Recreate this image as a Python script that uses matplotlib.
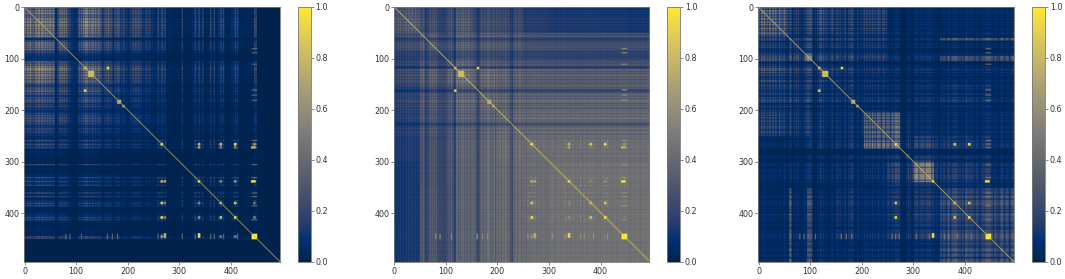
import numpy as np
import matplotlib
matplotlib.use('Agg')
import matplotlib.pyplot as plt

N = 495
BIN = 5      # stripes every 5 indices
COARSE = 50

TICKS = [0, 100, 200, 300, 400]
CBAR_TICKS = [0.0, 0.2, 0.4, 0.6, 0.8, 1.0]

### values, left panel

stripes_a = [
    .7, .8, .9, .6, .9, .95, .9, .9, .9, .9,
    .85, .9, .15, .7, .9, .85, .8, .35, .2, .15,
    .15, .6, .7, 1, .9, .85, .8, .8, .7, .7,
    .3, .7, .8, .6, .35, .6, .6, .4, .5, .3,
    .2, .5, .65, .65, .7, .5, .25, .5, .4, .3,
    .2, .25, .4, .45, .3, .12, .2, .1, .1, .1,
    .1, .12, .1, .08, .12, .2, .3, .4, .2, .1,
    .12, .2, .25, .22, .12, .3, .3, .12, .1, .12,
    .25, .3, .2, .1, .08, .08, .15, .08, .1, .4,
    .12, .08, .05, .05, .05, .06, .05, .03, .03,
]
levels_a = [
    [.76, .72, .76, .62, .56, .44, .44, .44, .44, .04],
    [.72, .66, .66, .56, .50, .40, .40, .40, .40, .04],
    [.76, .66, .68, .56, .50, .40, .40, .40, .40, .04],
    [.62, .56, .56, .46, .43, .34, .34, .34, .34, .04],
    [.56, .50, .50, .43, .40, .32, .32, .32, .32, .04],
    [.44, .40, .40, .34, .32, .36, .36, .36, .36, .04],
    [.44, .40, .40, .34, .32, .36, .40, .40, .40, .04],
    [.44, .40, .40, .34, .32, .36, .40, .40, .40, .04],
    [.44, .40, .40, .34, .32, .36, .40, .40, .40, .04],
    [.04, .04, .04, .04, .04, .04, .04, .04, .04, .04],
]

### middle panel

stripes_b = [
    .8, .9, .95, .85, 1, 1, 1, .95, 1, .95,
    .9, 1, .5, .85, 1, 1, .95, .6, .6, .55,
    .6, .8, .9, .45, 1, 1, 1, 1, .95, .95,
    .85, .85, .5, .85, .95, .95, 1, .95, 1, .9,
    .85, .95, 1, 1, .9, .6, .8, .95, .95, .95,
    .95, .95, 1, 1, 1, 1, 1, 1, 1, .97,
    1, 1, .97, 1, 1, 1, 1, 1, .97, 1,
    1, 1, .97, 1, 1, 1, 1, .97, 1, 1,
    1, 1, .97, 1, 1, 1, 1, 1, 1, 1,
    1, .97, 1, 1, 1, .97, 1, 1, 1,
]
levels_b = [
    [.42, .34, .40, .32, .30, .18, .16, .16, .15, .14],
    [.34, .46, .46, .44, .42, .32, .31, .30, .30, .30],
    [.30, .46, .55, .50, .46, .38, .37, .37, .37, .37],
    [.25, .42, .48, .52, .48, .42, .42, .42, .42, .42],
    [.22, .40, .46, .48, .52, .46, .46, .46, .46, .46],
    [.17, .34, .42, .45, .49, .44, .44, .44, .44, .44],
    [.15, .34, .41, .45, .47, .44, .46, .46, .46, .46],
    [.15, .36, .41, .45, .47, .44, .46, .46, .46, .46],
    [.15, .36, .41, .45, .47, .44, .46, .46, .46, .46],
    [.15, .36, .41, .45, .47, .44, .46, .46, .46, .46],
]

### right panel

stripes_c = [
    .6, 1, 1, .7, 1, .8, 1, .6, 1, .8,
    .9, .5, .9, .5, .9, 1, .5, .4, .7, 1,
    .9, .3, .5, .9, 1, 1, .6, .5, .9, .5,
    .7, .9, .5, .8, .5, 1, .9, .4, .7, .4,
    .5, 1, .9, .8, 1, .8, .9, .7, .9, .8,
    .8, .7, 1, 1, .9, .3, .2, .4, 1, .3,
    .9, 1, .9, .9, 1, 1, 1, .9, .5, .4,
    .7, .9, .6, 1, .8, .9, 1, .6, .8, .7,
    1, .7, .8, .6, .9, .5, .8, .7, 1, 1,
    .7, .9, .6, .8, 1, .7, .9, .6, 1,
]
levels_c = [
    [.52, .32, .40, .32, .32, .10, .10, .10, .10, .10],
    [.32, .26, .32, .32, .26, .13, .13, .13, .13, .13],
    [.40, .32, .32, .26, .20, .13, .13, .13, .13, .13],
    [.32, .32, .26, .26, .20, .16, .16, .20, .20, .13],
    [.32, .26, .20, .20, .26, .20, .13, .13, .13, .13],
    [.10, .13, .16, .20, .20, .26, .26, .20, .20, .13],
    [.10, .13, .13, .16, .13, .26, .26, .20, .20, .13],
    [.10, .13, .13, .20, .13, .20, .20, .30, .30, .30],
    [.10, .13, .13, .20, .13, .20, .20, .30, .30, .30],
    [.10, .13, .13, .13, .13, .13, .13, .30, .30, .36],
]
# row start, row stop, col start, col stop, level
blocks_c = [
    (0, 60, 0, 60, .62), (60, 105, 60, 105, .36), (90, 105, 90, 105, .62),
    (60, 65, 350, 495, .40), (95, 105, 350, 495, .34),
    (205, 275, 205, 275, .55), (297, 340, 297, 340, .60),
    (350, 495, 350, 495, .36), (285, 292, 285, 292, .70),
]

### thin lines in the pattern

dark_lines = [
    4, 9, 14, 20, 25, 31, 38, 43, 47, 53, 58, 66, 71, 75, 79, 83, 108, 112, 116,
    124, 128, 135, 140, 147, 156, 160, 165, 172, 177, 186, 190, 195, 207, 212,
    218, 223, 228, 238, 246, 255, 262, 275, 283, 292, 300, 310, 322, 335, 350,
    356, 364, 372, 392, 398, 420, 430, 455, 465, 475, 485,
]
# depth of the lines before and after index 250
dark_depth = {'a': (.55, .55), 'b': (.72, .92), 'c': (.4, .4)}

bright_lines = [258, 266, 272, 305, 330, 338, 345, 360, 367, 380, 385, 408, 412, 445, 448]
bright_gain = {'a': .75, 'b': 1.0, 'c': .7}

### bright spots: row, col, level (the matrices are symmetric)

squares = [(124, 136, .82), (180, 188, .72), (440, 451, 1.0)]
spots_shared = [
    (266, 266, 1.0), (408, 408, 1.0), (338, 338, .95), (380, 380, .8),
    (118, 118, .8), (192, 192, .7), (118, 162, .9), (266, 408, .95),
    (266, 380, .85), (380, 408, .85), (338, 445, .95), (338, 441, .95),
]
spots_ab = [
    (266, 338, .75), (266, 445, .6), (272, 338, .7), (272, 445, .75),
    (272, 441, .75), (338, 380, .55), (338, 408, .6), (380, 445, .45),
    (408, 445, .5), (272, 380, .5), (272, 408, .5),
]

# dim lattice around the bright spots, lower right
lattice_rows = [262, 272, 332, 345, 360, 375, 385, 405, 412]
lattice_cols = [258, 266, 272, 305, 330, 338, 360, 367, 380, 408, 412, 445]
lattice_level = {'a': .28, 'b': .6, 'c': .16}

row445_cols = [80, 88, 110, 160, 170, 180, 258, 265, 272, 305, 330, 360, 367, 385, 412]
row445_level = {'a': .42, 'b': .62, 'c': .45}

diag_level = {'a': .72, 'b': .85, 'c': .78}


def build(key, levels, stripes, spots, blocks=()):
    s = np.repeat(np.array(stripes, dtype=float), BIN)[:N]
    for i in dark_lines:
        s[i:i + 2] *= dark_depth[key][0 if i < 250 else 1]
    for i in bright_lines:
        s[i:i + 2] = np.maximum(s[i:i + 2], bright_gain[key])

    c = np.repeat(np.repeat(np.array(levels), COARSE, axis=0), COARSE, axis=1)[:N, :N]
    for r0, r1, c0, c1, level in blocks:
        c[r0:r1, c0:c1] = np.maximum(c[r0:r1, c0:c1], level)
        c[c0:c1, r0:r1] = np.maximum(c[c0:c1, r0:r1], level)
    m = c * np.outer(s, s)

    for r in lattice_rows:
        for col in lattice_cols:
            m[r:r + 2, col:col + 2] = np.maximum(m[r:r + 2, col:col + 2], lattice_level[key])
            m[col:col + 2, r:r + 2] = np.maximum(m[col:col + 2, r:r + 2], lattice_level[key])

    for col in row445_cols:
        m[440:451, col:col + 2] = row445_level[key]
        m[col:col + 2, 440:451] = row445_level[key]

    for a, b, level in squares:
        m[a:b, a:b] = level
    for r, col, level in spots:
        m[r - 2:r + 3, col - 2:col + 3] = level
        m[col - 2:col + 3, r - 2:r + 3] = level

    idx = np.arange(N - 1)
    m[idx, idx + 1] = diag_level[key]
    d = np.arange(N)
    keep = m[d, d] < diag_level[key]
    m[d[keep], d[keep]] = diag_level[key]
    return m


panels = [
    (build('a', levels_a, stripes_a, spots_shared + spots_ab), 24.3, 297.7),
    (build('b', levels_b, stripes_b, spots_shared + spots_ab), 394.0, 667.0),
    (build('c', levels_c, stripes_c, spots_shared, blocks_c), 758.3, 1032.0),
]

W, H = 1065, 279
fig = plt.figure(figsize=(W / 100, H / 100), dpi=100)

for m, left, cbar_left in panels:
    ax = fig.add_axes([left / W, 1 - 261.7 / H, 255.3 / W, 254.9 / H])
    im = ax.imshow(m, cmap='cividis', vmin=0, vmax=1, aspect='auto')
    ax.set_xticks(TICKS)
    ax.set_yticks(TICKS)
    ax.tick_params(labelsize=5.8, length=2, width=0.4, pad=1.5, colors='#333333')
    for sp in ax.spines.values():
        sp.set_linewidth(0.6)
        sp.set_color('#777777')

    cax = fig.add_axes([cbar_left / W, 1 - 261.7 / H, 13 / W, 254.9 / H])
    cb = fig.colorbar(im, cax=cax)
    cb.set_ticks(CBAR_TICKS)
    cb.ax.tick_params(labelsize=5.8, length=2, width=0.4, pad=1.5, colors='#333333')
    cb.outline.set_linewidth(0.6)
    cb.outline.set_edgecolor('#777777')

fig.savefig('out.png', dpi=100)
